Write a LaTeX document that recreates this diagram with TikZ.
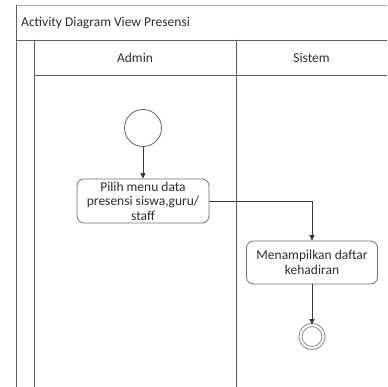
\documentclass[tikz,border=0pt]{standalone}
\usepackage{fontspec}
\setmainfont{Carlito}
\usetikzlibrary{arrows.meta}
\begin{document}
\begin{tikzpicture}[x=1pt,y=-1pt,
  frame/.style={draw=black!62,line width=0.9pt},
  lbl/.style={font=\fontsize{13.5}{15}\selectfont,text=black!82,inner sep=0pt},
  act/.style={draw=black!55,rounded corners=7pt,line width=0.8pt,inner sep=0pt,
    align=center,font=\fontsize{13.5}{14.6}\selectfont,text=black!82},
  flow/.style={draw=black!78,line width=0.8pt,-{Triangle[length=5.5pt,width=5pt]}},
]
\useasboundingbox (0,0) rectangle (387,387);
\fill[white] (0,0) rectangle (387,387);

% swimlane frame
\draw[black!35,line width=0.8pt] (16,5) -- (387,5);
\draw[frame] (16,5) -- (16,387);
\draw[frame] (16,40) -- (387,40);
\draw[frame] (34,40) -- (34,387);
\draw[frame] (34,75) -- (387,75);
\draw[frame] (236,40) -- (236,387);

% titles
\node[lbl,anchor=base west] (title) at (21,27) {Activity Diagram View Presensi};
\node[lbl] (admin) at (135,58) {Admin};
\node[lbl] (sistem) at (311.5,58) {Sistem};

% activity nodes
\node[circle,draw=black!60,line width=0.8pt,minimum size=37pt,inner sep=0pt] (start) at (143,128) {};
\node[act,minimum width=132pt,minimum height=44pt] (pilih) at (143,201)
  {Pilih menu data\\presensi siswa,guru/\\staff};
\node[act,minimum width=131pt,minimum height=43pt] (tampil) at (312,262.5)
  {Menampilkan daftar\\kehadiran};
\node[circle,draw=black!55,line width=0.8pt,double,double distance=2.2pt,
  minimum size=23pt,inner sep=0pt] (end) at (312,336.5) {};

% control flow
\draw[flow] (start) -- (pilih);
\draw[flow] (pilih.east) -| (tampil.north);
\draw[flow] (tampil) -- (end);
\end{tikzpicture}
\end{document}
